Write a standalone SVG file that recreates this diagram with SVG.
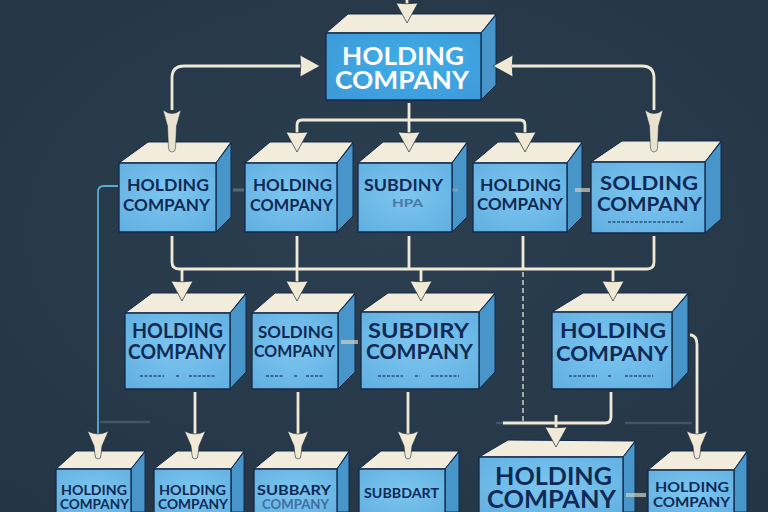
<svg xmlns="http://www.w3.org/2000/svg" width="768" height="512" viewBox="0 0 768 512">
<style>
.front{fill:url(#fg);stroke:#12294a;stroke-width:1.3;stroke-linejoin:round}
.top{fill:#f2ecdc;stroke:#12294a;stroke-width:1;stroke-linejoin:round}
.side{fill:#4896c9;stroke:#12294a;stroke-width:1;stroke-linejoin:round}
text{font-family:"Lato","Open Sans","Liberation Sans",sans-serif;font-weight:700;fill:#0f2a55}
.s13{font-size:13px}.s17{font-size:17px}.s19{font-size:19px}.s21{font-size:20px}.s24{font-size:24px}.s25{font-size:25px}
.faint{font-size:11px;fill:#4a78a6}
.w{fill:#fff}
.c{fill:none;stroke:#efe9d6;stroke-width:2.8;stroke-linejoin:round}
.ca{marker-end:url(#ah)}
.cd{marker-end:url(#dart)}
.cl{marker-end:url(#long)}
.blue{fill:none;stroke:#5cabd9;stroke-width:1.8}
.dash{fill:none;stroke:#d9d8cc;stroke-width:1.4;stroke-dasharray:5 3}
.stub{fill:none;stroke:#cfd0c6;stroke-width:4;opacity:.7}
.faintstub{fill:none;stroke:#cfd0c6;stroke-width:3;opacity:.3}
.haze{fill:none;stroke:#8a97a0;stroke-width:2.5;opacity:.3}
.tiny{fill:none;stroke:#27507f;stroke-width:1.8;stroke-dasharray:3 1.5;opacity:.75}
</style>
<defs>
<radialGradient id="bg" cx="50%" cy="45%" r="75%"><stop offset="0" stop-color="#2b3f50"/><stop offset="1" stop-color="#243545"/></radialGradient>
<radialGradient id="fg" cx="50%" cy="45%" r="70%"><stop offset="0" stop-color="#7dc6ef"/><stop offset="1" stop-color="#62b0e2"/></radialGradient>
<radialGradient id="ft" cx="55%" cy="45%" r="70%"><stop offset="0" stop-color="#3fade8"/><stop offset="1" stop-color="#3e9ad8"/></radialGradient>
<marker id="ah" markerUnits="userSpaceOnUse" markerWidth="30" markerHeight="30" refX="15" refY="15" orient="auto" viewBox="0 0 30 30">
<path d="M23,15 L3,4 Q4.500,15 3,26 Z" fill="#efe9d6" stroke="#1a2c42" stroke-width=".7" stroke-linejoin="round"/>
</marker>
<marker id="dart" markerUnits="userSpaceOnUse" markerWidth="44" markerHeight="44" refX="22" refY="22" orient="auto" viewBox="0 0 44 44">
<path d="M30,22 Q30,19 26,19 L17,18 L2,11.500 Q8,22 2,32.500 L17,26 L26,25 Q30,25 30,22 Z" fill="#efe9d6" stroke="#1a2c42" stroke-width=".6" stroke-linejoin="round"/>
</marker>
<marker id="long" markerUnits="userSpaceOnUse" markerWidth="80" markerHeight="80" refX="40" refY="40" orient="auto" viewBox="0 0 80 80">
<path d="M48,40 Q48,36.500 44,36.500 L22,35.500 L6,31 Q13,40 6,49 L22,44.500 L44,43.500 Q48,43.500 48,40 Z" fill="#e8e2cf" stroke="#1a2c42" stroke-width=".5" stroke-linejoin="round"/>
</marker>
</defs>
<rect width="768" height="512" fill="url(#bg)"/>

<g id="node-top">
<polygon class="top" points="326,33 348,14 496,14 481,33"/><polygon class="side" points="481,33 496,15 496,85 481,100"/><rect class="front" x="326" y="33" width="155" height="67" style="fill:url(#ft)"/>
<text class="s25 w" x="342" y="65" textLength="122" lengthAdjust="spacingAndGlyphs">HOLDING</text><text class="s25 w" x="335" y="89" textLength="134" lengthAdjust="spacingAndGlyphs">COMPANY</text>
</g>

<g id="node-b1">
<polygon class="top" points="119,163 148,142 231,142 216,163"/><polygon class="side" points="216,163 231,143 231,217 216,232"/><rect class="front" x="119" y="163" width="97" height="69"/>
<text class="s17" x="127" y="191" textLength="82" lengthAdjust="spacingAndGlyphs">HOLDING</text><text class="s17" x="123" y="211" textLength="87" lengthAdjust="spacingAndGlyphs">COMPANY</text>
</g>
<g id="node-b2">
<polygon class="top" points="245,163 270,142 353,142 337,163"/><polygon class="side" points="337,163 353,143 353,216 337,232"/><rect class="front" x="245" y="163" width="92" height="69"/>
<text class="s17" x="253" y="191" textLength="79" lengthAdjust="spacingAndGlyphs">HOLDING</text><text class="s17" x="250" y="211" textLength="83" lengthAdjust="spacingAndGlyphs">COMPANY</text>
</g>
<g id="node-b3">
<polygon class="top" points="358,163 383,142 467,142 452,163"/><polygon class="side" points="452,163 467,143 467,217 452,232"/><rect class="front" x="358" y="163" width="94" height="69"/>
<text class="s17" x="364" y="191" textLength="79" lengthAdjust="spacingAndGlyphs">SUBDINY</text><text class="faint" x="392" y="207" textLength="31" lengthAdjust="spacingAndGlyphs">HPA</text>
</g>
<g id="node-b4">
<polygon class="top" points="473,163 498,142 582,142 567,163"/><polygon class="side" points="567,163 582,143 582,217 567,232"/><rect class="front" x="473" y="163" width="94" height="69"/>
<text class="s17" x="480" y="191" textLength="81" lengthAdjust="spacingAndGlyphs">HOLDING</text><text class="s17" x="477" y="210" textLength="86" lengthAdjust="spacingAndGlyphs">COMPANY</text>
</g>
<g id="node-b5">
<polygon class="top" points="591,162 622,141 721,141 705,162"/><polygon class="side" points="705,162 721,142 721,219 705,233"/><rect class="front" x="591" y="162" width="114" height="71"/>
<text class="s19" x="600" y="190" textLength="98" lengthAdjust="spacingAndGlyphs">SOLDING</text><text class="s19" x="597" y="211" textLength="105" lengthAdjust="spacingAndGlyphs">COMPANY</text>
<path class="tiny" d="M608,222H683"/>
</g>

<g id="node-c1">
<polygon class="top" points="125,313 152,293 246,293 230,313"/><polygon class="side" points="230,313 246,294 246,372 230,389"/><rect class="front" x="125" y="313" width="105" height="76"/>
<text class="s21" x="132" y="338" textLength="91" lengthAdjust="spacingAndGlyphs">HOLDING</text><text class="s21" x="128" y="359" textLength="98" lengthAdjust="spacingAndGlyphs">COMPANY</text>
<path class="tiny" d="M140,376H164M176,376H180M189,376H215"/>
</g>
<g id="node-c2">
<polygon class="top" points="252,313 275,293 355,293 338,313"/><polygon class="side" points="338,313 355,294 355,372 338,389"/><rect class="front" x="252" y="313" width="86" height="76"/>
<text class="s17" x="258" y="338" textLength="75" lengthAdjust="spacingAndGlyphs">SOLDING</text><text class="s17" x="254" y="357" textLength="81" lengthAdjust="spacingAndGlyphs">COMPANY</text>
<path class="tiny" d="M266,376H283M294,376H298M306,376H323"/>
</g>
<g id="node-c3">
<polygon class="top" points="361,312 388,293 495,293 479,312"/><polygon class="side" points="479,312 495,294 495,372 479,389"/><rect class="front" x="361" y="312" width="118" height="77"/>
<text class="s21" x="368" y="338" textLength="101" lengthAdjust="spacingAndGlyphs">SUBDIRY</text><text class="s21" x="366" y="359" textLength="107" lengthAdjust="spacingAndGlyphs">COMPANY</text>
<path class="tiny" d="M378,376H403M415,376H420M431,376H459"/>
</g>
<g id="node-c4">
<polygon class="top" points="552,312 583,293 688,293 672,312"/><polygon class="side" points="672,312 688,294 688,372 672,389"/><rect class="front" x="552" y="312" width="120" height="77"/>
<text class="s21" x="560" y="338" textLength="106" lengthAdjust="spacingAndGlyphs">HOLDING</text><text class="s21" x="556" y="361" textLength="112" lengthAdjust="spacingAndGlyphs">COMPANY</text>
<path class="tiny" d="M569,376H597M608,376H612M625,376H653"/>
</g>

<g id="node-d1">
<polygon class="top" points="56,469 76,451 145,451 131,469"/><polygon class="side" points="131,469 145,452 145,512 131,512"/><rect class="front" x="56" y="469" width="75" height="50"/>
<text class="s13" x="61" y="495" textLength="66" lengthAdjust="spacingAndGlyphs">HOLDING</text><text class="s13" x="60" y="509" textLength="69" lengthAdjust="spacingAndGlyphs">COMPANY</text>
</g>
<g id="node-d2">
<polygon class="top" points="154,469 177,451 244,451 231,469"/><polygon class="side" points="231,469 244,452 244,512 231,512"/><rect class="front" x="154" y="469" width="77" height="50"/>
<text class="s13" x="159" y="495" textLength="67" lengthAdjust="spacingAndGlyphs">HOLDING</text><text class="s13" x="158" y="509" textLength="70" lengthAdjust="spacingAndGlyphs">COMPANY</text>
</g>
<g id="node-d3">
<polygon class="top" points="254,469 276,451 349,451 337,469"/><polygon class="side" points="337,469 349,452 349,512 337,512"/><rect class="front" x="254" y="469" width="83" height="50"/>
<text class="s13" x="257" y="495" textLength="74" lengthAdjust="spacingAndGlyphs">SUBBARY</text><text class="s13" x="262" y="509" textLength="67" lengthAdjust="spacingAndGlyphs" style="fill:#3f6f9f">COMPANY</text>
</g>
<g id="node-d4">
<polygon class="top" points="359,469 381,451 459,451 445,469"/><polygon class="side" points="445,469 459,452 459,512 445,512"/><rect class="front" x="359" y="469" width="86" height="50"/>
<text class="s13" x="364" y="498" textLength="75" lengthAdjust="spacingAndGlyphs">SUBBDART</text>
</g>
<g id="node-d5">
<polygon class="top" points="479,457 508,440 635,441 623,457"/><polygon class="side" points="623,457 635,442 635,512 623,512"/><rect class="front" x="479" y="457" width="144" height="62"/>
<text class="s24" x="495" y="485" textLength="117" lengthAdjust="spacingAndGlyphs">HOLDING</text><text class="s24" x="487" y="508" textLength="129" lengthAdjust="spacingAndGlyphs">COMPANY</text>
</g>
<g id="node-d6">
<polygon class="top" points="648,470 671,451 747,451 734,470"/><polygon class="side" points="734,470 747,452 747,512 734,512"/><rect class="front" x="648" y="470" width="86" height="50"/>
<text class="s13" x="655" y="492" textLength="74" lengthAdjust="spacingAndGlyphs">HOLDING</text><text class="s13" x="653" y="507" textLength="77" lengthAdjust="spacingAndGlyphs">COMPANY</text>
</g>

<g id="connectors">
<path class="haze" d="M100,422H150M496,423H505M625,423H692"/>
<path class="blue" d="M118,186H104Q98,186 98,192V440"/>
<path class="dash" d="M523,272V421"/>
<path class="stub" d="M575,190H590M341,342H358M626,495H646"/>
<path class="faintstub" d="M233,190H244M452,190H458"/>
<path class="c ca" d="M407,0V15"/>
<path class="c" d="M172,110V78Q172,66 184,66H312"/>
<path class="c ca" d="M300,66H312"/>
<path class="cl" d="M172,110V144"/>
<path class="c ca" d="M512,66H501"/>
<path class="c" d="M512,66H642Q654,66 654,78V110"/>
<path class="cl" d="M654,110V144"/>
<path class="c ca" d="M409,103V144"/>
<path class="c ca" d="M409,120H302Q297,120 297,125V144"/>
<path class="c ca" d="M409,120H520Q525,120 525,125V144"/>
<path class="c" d="M172,236V262Q172,269 179,269H647Q654,269 654,262V236"/>
<path class="c ca" d="M182,269V293"/>
<path class="c ca" d="M297,236V293"/>
<path class="c" d="M409,236V269M523,236V269"/>
<path class="c ca" d="M421,269V293"/>
<path class="c ca" d="M613,269V293"/>
<path class="c cd" d="M195,392V451"/>
<path class="c cd" d="M298,392V451"/>
<path class="c cd" d="M408,392V451"/>
<path class="cd" d="M98,425V451"/>
<path class="c" d="M690,335H691Q697,336 697,345V440"/>
<path class="cd" d="M697,440V451"/>
<path class="c" d="M611,392V417Q611,423 605,423H503"/>
<path class="c ca" d="M556,415V439"/>
</g>
</svg>
